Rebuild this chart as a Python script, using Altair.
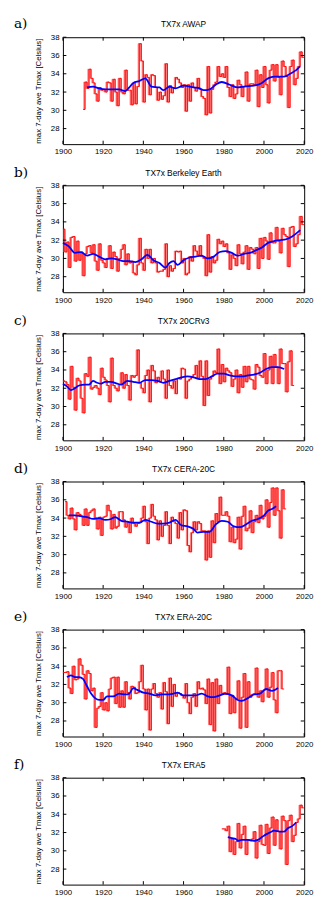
import altair as alt
import pandas as pd

# ---------------- data ----------------
A_START = 1910
A_VALS = [30.1, 33.1, 32.4, 34.5, 33.5, 33.0, 31.8, 31.0, 32.5, 32.2,
          32.3, 32.0, 33.1, 33.0, 31.0, 33.4, 32.0, 30.5, 33.5, 32.0,
          31.8, 34.4, 32.2, 32.2, 30.6, 33.0, 30.7, 32.6, 37.3, 35.4,
          30.9, 33.9, 33.6, 31.7, 33.9, 33.8, 32.5, 31.1, 32.0, 31.2,
          31.6, 35.1, 30.9, 32.7, 31.9, 32.5, 33.6, 33.4, 33.0, 32.5,
          32.8, 29.9, 32.8, 31.0, 33.0, 32.5, 32.1, 33.5, 32.3, 31.5,
          31.3, 29.5, 34.8, 29.7, 32.3, 32.8, 33.1, 34.8, 33.7, 34.0,
          33.6, 34.8, 32.5, 31.5, 32.8, 31.3, 31.8, 33.3, 32.8, 31.5,
          32.6, 34.2, 31.0, 32.9, 32.9, 32.8, 34.4, 30.4, 33.9, 32.5,
          34.8, 32.8, 30.8, 34.4, 35.0, 33.2, 35.0, 33.6, 31.7, 35.4,
          34.8, 33.7, 30.3, 34.8, 35.5, 32.8, 33.5, 34.8, 36.4, 35.8]
A_SM_YEARS = [1912, 1915, 1918, 1921, 1925, 1928, 1931, 1933, 1935, 1938, 1941, 1944,
              1948, 1950, 1953, 1956, 1960, 1965, 1968, 1970, 1973, 1976, 1979, 1983,
              1987, 1990, 1995, 1999, 2002, 2005, 2010, 2013, 2016, 2018]
A_SM_VALS = [32.5, 32.6, 32.4, 32.3, 32.3, 32.3, 32.1, 32.5, 33.0, 33.2, 33.5, 32.6,
             32.5, 32.2, 32.6, 32.4, 32.7, 32.5, 32.4, 32.2, 32.3, 32.8, 33.1, 32.8,
             32.5, 32.6, 32.7, 33.0, 33.5, 33.7, 33.7, 34.0, 34.4, 34.8]

B_START = 1900
B_VALS = [33.2, 30.7, 31.8, 29.0, 32.3, 32.4, 29.7, 31.9, 29.8, 30.7,
          28.1, 30.5, 31.3, 31.4, 30.6, 31.5, 29.7, 28.7, 31.6, 29.8,
          29.5, 29.0, 30.0, 31.4, 28.9, 30.7, 30.2, 28.6, 30.0, 31.0,
          31.5, 29.3, 30.5, 29.5, 29.7, 28.4, 28.2, 29.3, 32.2, 29.5,
          28.7, 31.0, 30.0, 31.0, 29.5, 30.0, 29.5, 28.5, 28.6, 28.6,
          28.8, 31.6, 28.0, 29.2, 28.6, 28.9, 30.8, 30.7, 30.8, 29.5,
          30.0, 28.2, 28.4, 30.2, 29.7, 31.4, 30.8, 30.4, 31.4, 30.2,
          30.0, 28.1, 32.6, 28.5, 30.2, 29.5, 29.8, 32.1, 31.6, 31.9,
          31.3, 31.6, 30.6, 28.8, 30.4, 30.0, 29.2, 31.5, 30.5, 29.4,
          30.7, 31.4, 28.8, 31.2, 31.0, 30.5, 31.2, 28.9, 32.2, 30.0,
          32.3, 31.9, 29.9, 32.8, 31.7, 31.7, 33.4, 31.9, 30.6, 33.3,
          32.6, 32.4, 29.1, 33.4, 33.5, 31.3, 31.6, 32.6, 34.6, 33.7]
B_SM_YEARS = [1900, 1903, 1906, 1909, 1912, 1915, 1918, 1921, 1924, 1927, 1930, 1933,
              1936, 1939, 1942, 1945, 1948, 1951, 1953, 1955, 1957, 1960, 1963, 1966,
              1969, 1972, 1975, 1978, 1981, 1984, 1987, 1990, 1993, 1996, 1999, 2002,
              2005, 2008, 2011, 2014, 2017, 2018]
B_SM_VALS = [31.7, 31.3, 30.6, 30.7, 30.3, 30.5, 30.2, 29.9, 30.0, 29.9, 29.7, 29.7,
             29.6, 29.9, 30.4, 29.8, 29.5, 29.0, 29.5, 29.7, 29.3, 29.8, 30.1, 30.2,
             30.3, 30.0, 30.2, 30.7, 30.8, 30.6, 30.3, 30.5, 30.6, 30.9, 31.2, 31.7,
             31.9, 32.0, 32.1, 32.4, 32.9, 33.1]

C_START = 1900
C_VALS = [32.8, 32.7, 32.4, 30.8, 34.4, 32.1, 29.6, 33.1, 32.8, 30.9,
          29.3, 33.6, 33.3, 35.4, 31.9, 32.1, 32.3, 32.0, 31.3, 34.2,
          33.2, 32.9, 32.3, 30.5, 35.3, 32.3, 32.0, 31.7, 32.4, 33.7,
          32.0, 33.5, 32.3, 30.7, 33.4, 33.2, 33.4, 36.2, 32.6, 32.0,
          31.5, 33.4, 34.0, 30.5, 34.5, 33.9, 32.6, 33.2, 32.7, 33.9,
          33.0, 30.9, 34.0, 32.3, 32.0, 32.8, 31.4, 33.1, 33.0, 34.2,
          34.1, 30.9, 32.8, 33.0, 33.3, 33.5, 34.5, 33.1, 35.0, 33.3,
          30.1, 35.0, 31.2, 33.0, 33.3, 33.9, 33.7, 36.3, 32.5, 34.6,
          32.7, 34.2, 33.9, 33.7, 32.2, 33.0, 34.0, 31.5, 33.5, 32.1,
          34.4, 32.7, 34.4, 33.0, 32.9, 31.9, 34.6, 34.3, 33.4, 33.2,
          35.8, 32.5, 34.0, 35.5, 32.5, 35.7, 34.3, 32.5, 36.3, 34.7,
          34.7, 31.6, 34.9, 36.1, 32.3]
C_SM_YEARS = [1900, 1902, 1904, 1906, 1908, 1911, 1913, 1915, 1917, 1919, 1921, 1924,
              1927, 1929, 1932, 1935, 1938, 1941, 1944, 1947, 1950, 1953, 1956, 1959,
              1962, 1965, 1968, 1971, 1974, 1977, 1980, 1983, 1986, 1989, 1992, 1995,
              1998, 2001, 2004, 2007, 2010]
C_SM_VALS = [32.5, 32.2, 31.8, 32.0, 32.3, 32.4, 32.4, 32.8, 32.6, 32.5, 32.7, 32.7,
             32.5, 32.4, 32.8, 32.7, 32.6, 32.9, 32.9, 32.8, 32.6, 32.8, 33.0, 33.2,
             33.3, 33.2, 33.0, 33.0, 33.3, 33.6, 33.6, 33.4, 33.3, 33.3, 33.4, 33.5,
             33.7, 34.1, 34.3, 34.3, 34.1]

D_START = 1901
D_VALS = [35.8, 34.3, 33.9, 35.1, 33.9, 32.7, 34.6, 34.4, 34.2, 33.2,
          35.0, 33.2, 34.6, 34.8, 35.0, 34.0, 32.8, 34.1, 32.1, 34.1,
          34.2, 35.4, 34.8, 32.8, 34.4, 32.9, 33.1, 34.7, 34.7, 33.8,
          33.0, 33.5, 32.4, 34.0, 33.4, 33.1, 33.4, 33.5, 34.0, 35.3,
          33.6, 31.2, 34.0, 35.5, 34.2, 33.8, 31.6, 33.7, 32.0, 33.2,
          34.7, 33.2, 31.2, 34.1, 33.6, 33.4, 31.8, 34.6, 32.7, 34.9,
          34.8, 31.0, 30.3, 32.4, 33.6, 32.7, 33.6, 33.4, 32.6, 32.6,
          29.4, 32.6, 29.7, 33.7, 31.3, 34.5, 33.6, 36.3, 34.3, 34.3,
          34.7, 34.2, 31.4, 33.0, 31.3, 31.7, 34.1, 30.6, 34.2, 35.3,
          32.6, 32.9, 34.8, 32.4, 33.6, 34.3, 33.5, 35.4, 33.9, 34.2,
          36.0, 33.0, 35.7, 37.3, 34.3, 37.3, 34.8, 31.8, 37.1, 35.0]
D_SM_YEARS = [1903, 1906, 1909, 1912, 1915, 1918, 1921, 1924, 1926, 1929, 1932, 1935,
              1938, 1941, 1944, 1947, 1950, 1953, 1956, 1959, 1962, 1965, 1967, 1970,
              1973, 1976, 1979, 1982, 1985, 1988, 1991, 1994, 1997, 2000, 2002, 2004,
              2006]
D_SM_VALS = [34.3, 34.3, 34.2, 34.1, 33.9, 34.0, 33.8, 33.9, 34.1, 33.7, 33.6, 33.5,
             33.5, 33.8, 33.6, 33.4, 33.4, 33.5, 33.8, 33.2, 33.1, 32.8, 32.4, 32.5,
             32.5, 33.3, 33.7, 33.6, 33.1, 33.0, 33.3, 33.7, 33.9, 34.3, 34.8, 35.0,
             35.3]

E_START = 1900
E_VALS = [33.3, 33.3, 33.4, 31.6, 31.0, 34.0, 32.5, 32.6, 34.8, 34.1,
          33.1, 30.4, 33.5, 33.2, 31.3, 31.6, 27.3, 29.4, 29.6, 31.1,
          29.2, 30.0, 29.1, 31.5, 32.7, 32.8, 29.9, 32.8, 29.5, 31.3,
          29.5, 32.3, 31.1, 30.4, 31.8, 31.7, 31.0, 31.1, 32.3, 34.1,
          31.5, 29.2, 31.5, 27.0, 31.5, 32.1, 31.0, 30.6, 31.1, 29.3,
          32.2, 31.2, 27.7, 32.7, 29.6, 32.0, 30.7, 31.1, 31.0, 30.8,
          30.5, 32.1, 30.0, 28.8, 30.6, 31.0, 29.6, 32.3, 31.5, 31.6,
          31.4, 29.9, 32.6, 27.6, 32.2, 26.9, 32.6, 29.9, 31.9, 31.0,
          31.1, 30.9, 33.9, 28.8, 30.8, 28.9, 30.4, 32.4, 27.2, 30.6,
          33.2, 27.3, 32.3, 30.6, 30.9, 31.0, 33.8, 30.6, 31.3, 30.1,
          31.4, 33.7, 30.6, 31.7, 33.3, 30.3, 28.9, 33.5, 33.5, 31.5]
E_SM_YEARS = [1902, 1904, 1906, 1908, 1910, 1912, 1914, 1916, 1918, 1920, 1922, 1925,
              1928, 1931, 1933, 1935, 1937, 1940, 1943, 1946, 1949, 1952, 1955, 1957,
              1960, 1963, 1966, 1969, 1972, 1975, 1978, 1981, 1984, 1987, 1989, 1992,
              1995, 1998, 2001, 2004, 2007]
E_SM_VALS = [32.8, 33.0, 32.8, 32.8, 32.6, 31.8, 31.0, 30.5, 30.3, 30.3, 30.7, 30.7,
             31.0, 30.9, 31.0, 31.6, 31.4, 31.1, 31.0, 30.8, 30.9, 30.9, 31.0, 31.1,
             30.8, 30.8, 30.8, 31.0, 30.7, 30.6, 30.8, 31.0, 30.8, 30.3, 30.2, 30.5,
             30.9, 31.0, 31.5, 31.3, 31.6]

F_START = 1979
F_VALS = [32.4, 32.4, 32.2, 32.7, 29.9, 31.3, 29.6, 31.0, 33.0, 30.3,
          31.8, 32.7, 29.6, 31.2, 31.1, 31.3, 32.1, 29.2, 31.0, 32.8,
          30.7, 30.6, 32.9, 29.7, 32.5, 33.7, 30.6, 33.4, 32.1, 30.2,
          33.8, 33.3, 28.5, 33.3, 33.9, 31.0, 31.7, 33.1, 33.5, 35.0,
          34.7]
F_SM_YEARS = [1982, 1984, 1986, 1987, 1989, 1992, 1995, 1997, 1999, 2001, 2003, 2005,
              2008, 2010, 2012, 2014, 2016]
F_SM_VALS = [31.5, 31.4, 31.3, 31.1, 31.2, 31.2, 31.1, 31.2, 31.5, 31.8, 32.0, 32.2,
             32.1, 32.1, 32.5, 32.7, 33.1]

LABELS = ["a)", "b)", "c)", "d)", "e)", "f)"]
TITLES = ["TX7x AWAP", "TX7x Berkeley Earth", "TX7x 20CRv3", "TX7x CERA-20C",
          "TX7x ERA-20C", "TX7x ERA5"]
X_TICKS = [1900, 1920, 1940, 1960, 1980, 2000, 2020]
Y_TICKS = [28, 30, 32, 34, 36, 38]

PANELS = [
    (A_START, A_VALS, A_SM_YEARS, A_SM_VALS),
    (B_START, B_VALS, B_SM_YEARS, B_SM_VALS),
    (C_START, C_VALS, C_SM_YEARS, C_SM_VALS),
    (D_START, D_VALS, D_SM_YEARS, D_SM_VALS),
    (E_START, E_VALS, E_SM_YEARS, E_SM_VALS),
    (F_START, F_VALS, F_SM_YEARS, F_SM_VALS),
]

W, H = 246, 109
TL = 3.5  # inward tick length
FONT = "Liberation Sans"

XS = alt.Scale(domain=[1900, 2020], nice=False, zero=False)
YS = alt.Scale(domain=[26.3, 38.0], nice=False, zero=False)
XAXIS = alt.Axis(values=X_TICKS, format="d", title=None, ticks=False, tickSize=0,
                 domain=False, grid=False, labelFlush=False, labelPadding=4,
                 labelFont=FONT, labelFontSize=8, labelColor="black")
YAXIS = alt.Axis(values=Y_TICKS, title="max 7-day ave Tmax [Celsius]", ticks=False,
                 tickSize=0, domain=False, grid=False, labelPadding=4,
                 labelFont=FONT, labelFontSize=8, labelColor="black",
                 titleFont=FONT, titleFontSize=8, titleFontWeight="normal",
                 titleColor="black", titlePadding=8)


def X(field="x"):
    return alt.X(f"{field}:Q", scale=XS, axis=XAXIS, title=None)


def Y(field="y"):
    return alt.Y(f"{field}:Q", scale=YS, axis=YAXIS, title="max 7-day ave Tmax [Celsius]")


def panel(label, title, start, vals, sm_years, sm_vals):
    years = list(range(start, start + len(vals)))
    step_df = pd.DataFrame({"x": years + [years[-1] + 1], "y": vals + [vals[-1]]})
    bar_df = pd.DataFrame({
        "x": [yr - 0.6 for yr in years[1:]],
        "xe": years[1:],
        "y": vals[:-1],
        "ye": vals[1:],
    })
    sm_df = pd.DataFrame({"x": sm_years, "y": sm_vals})
    xt = pd.DataFrame({"x": X_TICKS})
    yt = pd.DataFrame({"y": Y_TICKS})

    bars = alt.Chart(bar_df).mark_rect(fill="#ffa0a0", stroke="#ff2020",
                                       strokeWidth=0.5).encode(
        x=X(), x2="xe:Q", y=Y(), y2="ye:Q")
    step = alt.Chart(step_df).mark_line(interpolate="step-after", color="#ff0000",
                                        strokeWidth=0.9).encode(x=X(), y=Y())
    smooth = alt.Chart(sm_df).mark_line(interpolate="monotone", color="#0000ff",
                                        strokeWidth=1.8).encode(x=X(), y=Y())
    xb = alt.Chart(xt).mark_rule(color="black", strokeWidth=1).encode(
        x=X(), y=alt.value(H), y2=alt.value(H - TL))
    xtop = alt.Chart(xt).mark_rule(color="black", strokeWidth=1).encode(
        x=X(), y=alt.value(0), y2=alt.value(TL))
    yl = alt.Chart(yt).mark_rule(color="black", strokeWidth=1).encode(
        y=Y(), x=alt.value(0), x2=alt.value(TL))
    yr = alt.Chart(yt).mark_rule(color="black", strokeWidth=1).encode(
        y=Y(), x=alt.value(W), x2=alt.value(W - TL))
    lab = alt.Chart(pd.DataFrame({"s": [label]})).mark_text(
        font="DejaVu Serif", fontSize=14, align="left", baseline="middle",
        color="black").encode(text="s:N", x=alt.value(-50), y=alt.value(-13))
    ttl = alt.Chart(pd.DataFrame({"s": [title]})).mark_text(
        font=FONT, fontSize=8.5, align="center", baseline="middle",
        color="black").encode(text="s:N", x=alt.value(W / 2), y=alt.value(-13))

    return alt.layer(bars, step, smooth, xb, xtop, yl, yr, lab, ttl).properties(
        width=W, height=H)


charts = [panel(LABELS[i], TITLES[i], *PANELS[i]) for i in range(6)]

chart = alt.vconcat(*charts, spacing=8).properties(
    padding={"left": 5, "top": 0, "right": 0, "bottom": 0},
    background="white",
).configure_view(stroke="black", strokeWidth=1)

chart.save("out.html", embed_options={"renderer": "svg", "actions": False})
